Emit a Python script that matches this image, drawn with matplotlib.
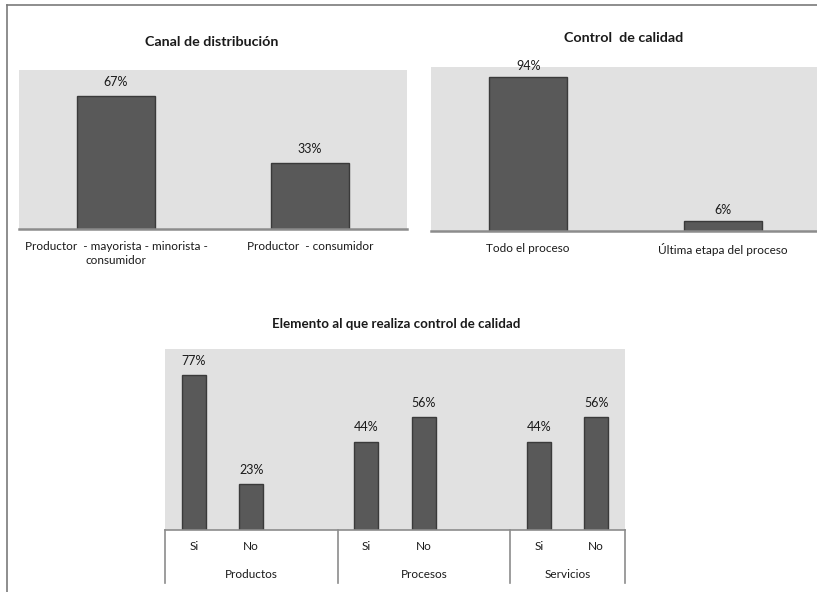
import matplotlib
matplotlib.use('Agg')
from matplotlib import pyplot as plt
import matplotlib.transforms as mtransforms

plt.rcParams['font.family'] = ['Lato', 'DejaVu Sans']

###datos
canal_cats = ['Productor  - mayorista - minorista -\nconsumidor', 'Productor  - consumidor']
canal_vals = [67, 33]

control_cats = ['Todo el proceso', 'Última etapa del proceso']
control_vals = [94, 6]

elem_groups = ['Productos', 'Procesos', 'Servicios']
elem_sub = ['Si', 'No']
elem_vals = [[77, 23], [44, 56], [44, 56]]

###estilos
W, H = 817, 592
BG = '#e1e1e1'
BAR = '#595959'
EDGE = '#3a3a3a'
AXC = '#8c8c8c'
TXT = '#1a1a1a'


def px_axes(fig, x0, y0, x1, y1):
    # coordenadas en pixeles (y desde arriba)
    return fig.add_axes([x0 / W, 1 - y1 / H, (x1 - x0) / W, (y1 - y0) / H])


def style(ax, ymax):
    ax.set_facecolor(BG)
    ax.set_ylim(0, ymax)
    ax.set_yticks([])
    for s in ['top', 'left', 'right']:
        ax.spines[s].set_visible(False)
    ax.spines['bottom'].set_color(AXC)
    ax.spines['bottom'].set_linewidth(1.8)
    ax.tick_params(axis='x', length=0, pad=9, labelsize=8.5, colors=TXT)


def put_labels(ax, xs, vals, off):
    for x, v in zip(xs, vals):
        ax.text(x, v + off, '%d%%' % v, ha='center', va='bottom', fontsize=9, color=TXT)


fig = plt.figure(figsize=(W / 100, H / 100), dpi=100)
fig.patch.set_facecolor('white')

# marco exterior
fig.add_artist(plt.Line2D([7 / W, 7 / W], [0, 1 - 5 / H], color='#7a7a7a', lw=1.2))
fig.add_artist(plt.Line2D([7 / W, 1], [1 - 5 / H, 1 - 5 / H], color='#7a7a7a', lw=1.2))

###grafico 1
ax1 = px_axes(fig, 19, 70, 407, 229)
style(ax1, 80)
x1 = list(range(len(canal_vals)))
ax1.bar(x1, canal_vals, width=0.4, color=BAR, edgecolor=EDGE, linewidth=1)
ax1.set_xlim(-0.5, len(canal_vals) - 0.5)
ax1.set_xticks(x1)
ax1.set_xticklabels(canal_cats, va='top', linespacing=1.3)
put_labels(ax1, x1, canal_vals, 4)
fig.text(212 / W, 1 - 42 / H, 'Canal de distribución', ha='center', va='center',
         fontsize=10.3, fontweight='bold', color=TXT)

###grafico 2
ax2 = px_axes(fig, 431, 67, 820, 231)
style(ax2, 100)
x2 = list(range(len(control_vals)))
ax2.bar(x2, control_vals, width=0.4, color=BAR, edgecolor=EDGE, linewidth=1)
ax2.set_xlim(-0.5, len(control_vals) - 0.5)
ax2.set_xticks(x2)
ax2.set_xticklabels(control_cats)
put_labels(ax2, x2, control_vals, 3)
fig.text(624 / W, 1 - 38 / H, 'Control  de calidad', ha='center', va='center',
         fontsize=10.3, fontweight='bold', color=TXT)

###grafico 3
ax3 = px_axes(fig, 165, 349, 625, 530)
style(ax3, 90)
xs, vs, labs = [], [], []
pos = 0
bounds = [-0.5]
centers = []
for gi, g in enumerate(elem_groups):
    start = pos
    for si, s in enumerate(elem_sub):
        xs.append(pos)
        vs.append(elem_vals[gi][si])
        labs.append(s)
        pos += 1
    centers.append((start - 0.5 + pos - 0.5 + (1 if gi < len(elem_groups) - 1 else 0)) / 2)
    if gi < len(elem_groups) - 1:
        pos += 1  # espacio vacio
    bounds.append(pos - 0.5)
ax3.bar(xs, vs, width=0.42, color=BAR, edgecolor=EDGE, linewidth=1)
ax3.set_xlim(-0.5, pos - 0.5)
ax3.set_xticks(xs)
ax3.set_xticklabels(labs)
ax3.tick_params(axis='x', pad=8)
put_labels(ax3, xs, vs, 4)
ax3.spines['bottom'].set_linewidth(1.2)

trans = mtransforms.blended_transform_factory(ax3.transData, ax3.transAxes)
low = -(583 - 530) / 181
for b in bounds:
    ax3.plot([b, b], [0, low], transform=trans, color=AXC, lw=1.2, clip_on=False)
for c, g in zip(centers, elem_groups):
    ax3.text(c, -(575 - 530) / 181, g, transform=trans, ha='center', va='center',
             fontsize=8.5, color=TXT)
fig.text(396 / W, 1 - 324 / H, 'Elemento al que realiza control de calidad', ha='center',
         va='center', fontsize=9.6, fontweight='bold', color=TXT)

fig.savefig('out.png', dpi=100)
